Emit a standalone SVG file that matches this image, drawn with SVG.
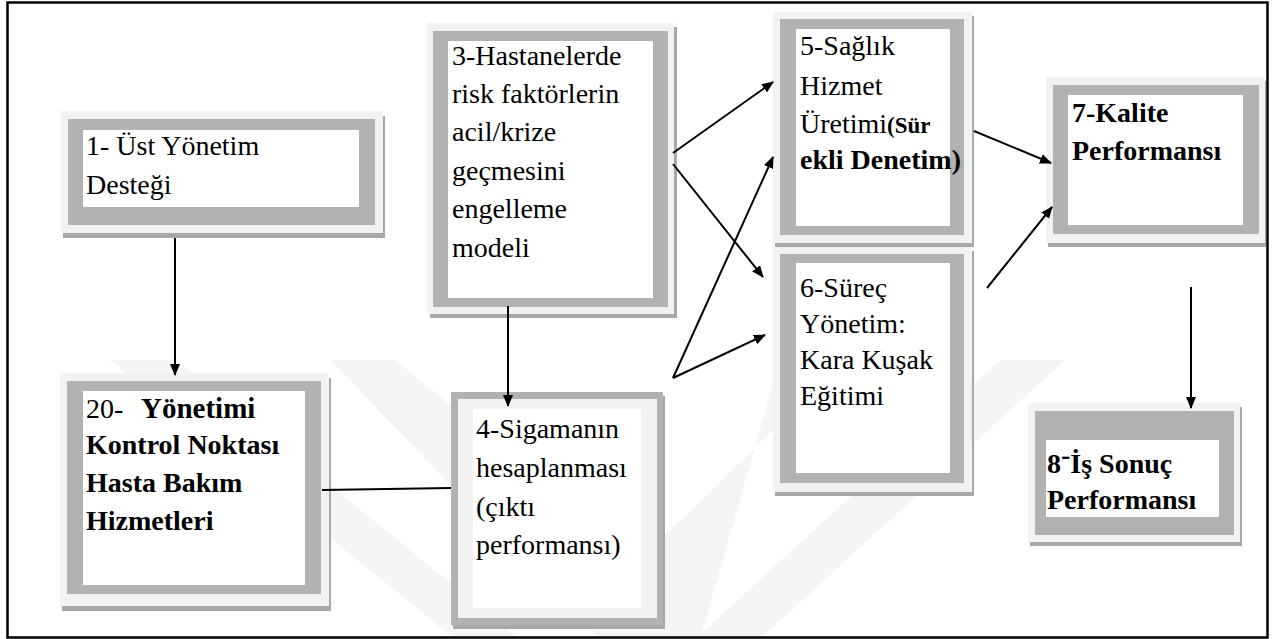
<svg xmlns="http://www.w3.org/2000/svg" width="1273" height="639" viewBox="0 0 1273 639">
<style>
.lt{fill:#f2f2f2}.gr{fill:#b2b2b2}.wh{fill:#ffffff}.sh{fill:#a8a8a8}
.wm{fill:#f5f5f5}
.t{font-family:"Liberation Serif","Times New Roman",serif;font-size:28px;fill:#000}
.b{font-weight:bold}
.c{stroke:#000;stroke-width:2;fill:none}
</style>
<defs>
<marker id="ah" markerUnits="userSpaceOnUse" markerWidth="14" markerHeight="12" refX="11" refY="5" orient="auto">
<path d="M0,0 L12,5 L0,10 z" fill="#000"/>
</marker>
</defs>
<rect x="0" y="0" width="1273" height="639" fill="#fff"/>
<g id="watermark">
<polygon class="wm" points="110,360 175,360 520,639 455,639"/>
<polygon class="wm" points="330,360 395,360 640,560 640,639 600,639"/>
<polygon class="wm" points="1000,360 1065,360 760,639 695,639"/>
<polygon class="wm" points="780,360 845,360 640,560 640,639 700,639"/>
</g>
<rect x="7.5" y="2.5" width="1260" height="635" fill="none" stroke="#000" stroke-width="2.5"/>
<g id="n1">
<rect class="sh" x="63" y="116" width="322" height="122"/>
<rect class="lt" x="61" y="111" width="322" height="122"/>
<rect class="gr" x="68" y="119" width="307" height="106"/>
<rect class="wh" x="83" y="130" width="276" height="77"/>
<text class="t" x="86" y="155" font-size="29">1- Üst Yönetim</text>
<text class="t" x="86" y="194" font-size="29">Desteği</text>
</g>
<g id="n20">
<rect class="sh" x="62" y="378" width="269" height="233"/>
<rect class="lt" x="60" y="373" width="269" height="233"/>
<rect class="gr" x="67" y="381" width="254" height="213"/>
<rect class="wh" x="83" y="391" width="222" height="194"/>
<text class="t" x="86" y="418">20- <tspan class="b" x="141" font-size="29">Yönetimi</tspan></text>
<text class="t b" x="86" y="454" font-size="26">Kontrol Noktası</text>
<text class="t b" x="86" y="492" font-size="29">Hasta Bakım</text>
<text class="t b" x="86" y="530" font-size="29">Hizmetleri</text>
</g>
<g id="n3">
<rect class="sh" x="430" y="27" width="247" height="291"/>
<rect class="lt" x="427" y="23" width="247" height="291"/>
<rect class="gr" x="433" y="31" width="235" height="276"/>
<rect class="wh" x="448" y="41" width="205" height="257"/>
<text class="t" x="452" y="65">3-Hastanelerde</text>
<text class="t" x="452" y="103">risk faktörlerin</text>
<text class="t" x="452" y="141">acil/krize</text>
<text class="t" x="452" y="180">geçmesini</text>
<text class="t" x="452" y="218">engelleme</text>
<text class="t" x="452" y="257">modeli</text>
</g>
<g id="n4">
<rect class="sh" x="453" y="396" width="212" height="233"/>
<rect class="gr" x="451" y="392" width="212" height="233"/>
<rect class="lt" x="458" y="399" width="199" height="219"/>
<rect class="wh" x="473" y="409" width="168" height="199"/>
<text class="t" x="476" y="438">4-Sigamanın</text>
<text class="t" x="476" y="477">hesaplanması</text>
<text class="t" x="476" y="516">(çıktı</text>
<text class="t" x="476" y="554">performansı)</text>
</g>
<g id="n5">
<rect class="sh" x="775" y="16" width="199" height="231"/>
<rect class="lt" x="773" y="12" width="199" height="231"/>
<rect class="gr" x="780" y="19" width="184" height="216"/>
<rect class="wh" x="796" y="29" width="154" height="197"/>
<text class="t" x="800" y="55">5-Sağlık</text>
<text class="t" x="800" y="95">Hizmet</text>
<text class="t" x="800" y="133">Üretimi<tspan class="b" font-size="23">(Sür</tspan></text>
<text class="t b" x="800" y="169" font-size="23">ekli Denetim)</text>
</g>
<g id="n6">
<rect class="sh" x="775" y="251" width="199" height="245"/>
<rect class="lt" x="773" y="247" width="199" height="245"/>
<rect class="gr" x="780" y="254" width="184" height="229"/>
<rect class="wh" x="796" y="263" width="154" height="210"/>
<text class="t" x="800" y="297">6-Süreç</text>
<text class="t" x="800" y="333">Yönetim:</text>
<text class="t" x="800" y="369">Kara Kuşak</text>
<text class="t" x="800" y="405">Eğitimi</text>
</g>
<g id="n7">
<rect class="sh" x="1048" y="81" width="218" height="166"/>
<rect class="lt" x="1046" y="77" width="219" height="166"/>
<rect class="gr" x="1053" y="85" width="206" height="149"/>
<rect class="wh" x="1068" y="95" width="175" height="130"/>
<text class="t b" x="1072" y="122" font-size="29">7-Kalite</text>
<text class="t b" x="1072" y="160" font-size="29">Performansı</text>
</g>
<g id="n8">
<rect class="sh" x="1030" y="407" width="212" height="139"/>
<rect class="lt" x="1028" y="403" width="212" height="139"/>
<rect class="gr" x="1035" y="411" width="199" height="124"/>
<rect class="wh" x="1046" y="440" width="173" height="77"/>
<text class="t b" x="1047" y="473" font-size="30">8<tspan dy="-9">-</tspan><tspan dy="9">İş Sonuç</tspan></text>
<text class="t b" x="1047" y="509" font-size="30">Performansı</text>
</g>
<g id="connectors">
<line class="c" x1="175" y1="238" x2="175" y2="375" marker-end="url(#ah)"/>
<line class="c" x1="508" y1="306" x2="508" y2="406" marker-end="url(#ah)"/>
<line class="c" x1="322" y1="490" x2="451" y2="488"/>
<line class="c" x1="673" y1="153" x2="773" y2="82" marker-end="url(#ah)"/>
<line class="c" x1="673" y1="164" x2="763" y2="277" marker-end="url(#ah)"/>
<line class="c" x1="673" y1="378" x2="773" y2="157" marker-end="url(#ah)"/>
<line class="c" x1="673" y1="378" x2="765" y2="335" marker-end="url(#ah)"/>
<line class="c" x1="974" y1="131" x2="1051" y2="163" marker-end="url(#ah)"/>
<line class="c" x1="987" y1="288" x2="1052" y2="207" marker-end="url(#ah)"/>
<line class="c" x1="1191" y1="287" x2="1191" y2="408" marker-end="url(#ah)"/>
</g>
</svg>
